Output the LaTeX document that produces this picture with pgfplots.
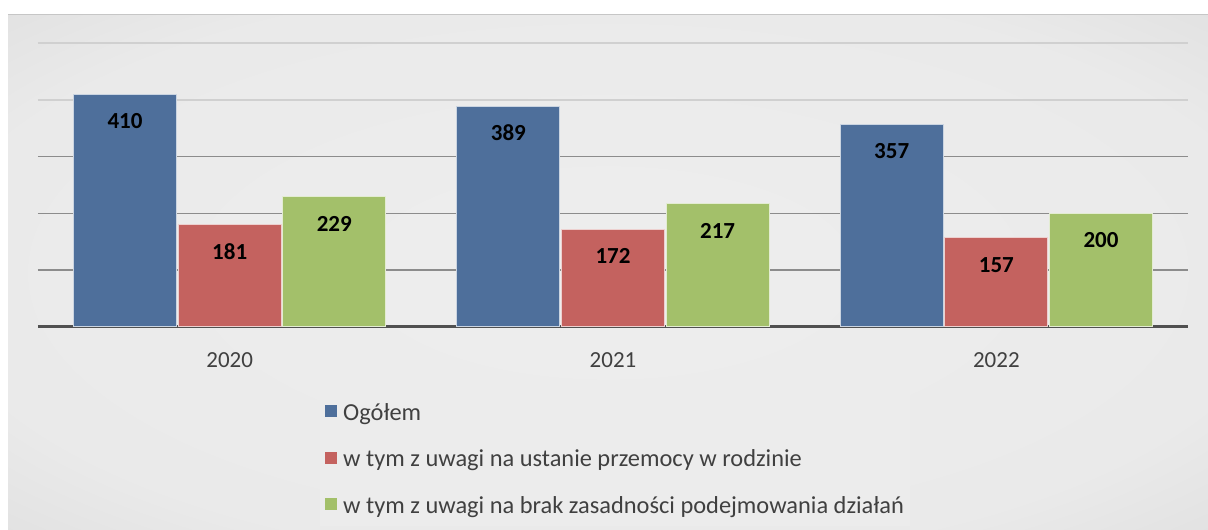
\documentclass[border=0pt]{standalone}
\usepackage{fontspec}
\setmainfont{Carlito}
\usepackage{pgfplots}
\pgfplotsset{compat=1.18}
\definecolor{cBlue}{HTML}{4E6F9B}
\definecolor{cRed}{HTML}{C4625F}
\definecolor{cGreen}{HTML}{A3C06A}
\definecolor{txt}{HTML}{404040}
\definecolor{gridD}{HTML}{8C8C8C}
\definecolor{gridL}{HTML}{D0D0D0}
\definecolor{baseL}{HTML}{505050}
\definecolor{bgIn}{HTML}{EEEEEE}
\definecolor{bgMid}{HTML}{D3D3D3}
\definecolor{bgOut}{HTML}{C2C2C2}
\definecolor{legBg}{HTML}{ECECEC}
\pgfdeclareradialshading{bgshade}{\pgfpoint{0bp}{0bp}}{color(0bp)=(bgIn); color(28bp)=(bgIn!85!bgMid); color(50bp)=(bgMid); color(71bp)=(bgOut)}

\begin{document}
\begin{tikzpicture}[x=1pt,y=1pt]
\useasboundingbox (0,0) rectangle (1208,530);
\fill[white] (0,0) rectangle (1208,530);
\shade[shading=bgshade] (8,0) rectangle (1208,515);
\draw[gray!45,line width=1pt] (8,515) -- (1208,515);
\begin{axis}[
  at={(38pt,203pt)},anchor=south west,
  scale only axis,width=1150pt,height=284pt,
  xmin=-0.5,xmax=2.5,ymin=0,ymax=500,
  ybar,bar width=0.268,bar shift=0pt,
  xtick={0,1,2},xticklabels={2020,2021,2022},
  xticklabel style={anchor=center,yshift=-33pt,font=\fontsize{23}{27}\selectfont,text=txt},
  ytick={100,200,300},yticklabels={},
  extra y ticks={400,500},extra y tick labels={},
  extra y tick style={grid style={draw=gridL,line width=1.5pt}},
  ymajorgrids,grid style={draw=gridD,line width=1.5pt},
  major tick length=0pt,tick style={draw=none},
  axis x line*=bottom,axis y line*=left,
  x axis line style={draw=baseL,line width=3pt},
  y axis line style={draw=none},
  /pgf/number format/assume math mode=true,
  nodes near coords,
  nodes near coords style={anchor=center,yshift=-27pt,font=\fontsize{23}{27}\selectfont\bfseries,text=black},
  legend style={at={(0.2452,-0.2289)},anchor=north west,draw=none,fill=legBg,
    font=\fontsize{24.4}{28}\selectfont,text=txt,inner xsep=5pt,inner ysep=9pt,row sep=24pt,
    column sep=5pt,legend cell align=left,nodes={inner xsep=1pt}},
  legend image code/.code={\fill[#1,draw=none] (0pt,-5pt) rectangle (12pt,7pt);},
]
\addplot[fill=cBlue,draw=white!70!cBlue,line width=1pt] coordinates {(-0.273,410) (0.727,389) (1.727,357)};
\addplot[fill=cRed,draw=white!70!cRed,line width=1pt] coordinates {(0,181) (1,172) (2,157)};
\addplot[fill=cGreen,draw=white!70!cGreen,line width=1pt] coordinates {(0.273,229) (1.273,217) (2.273,200)};
\legend{Ogółem,w tym z uwagi na ustanie przemocy w rodzinie,w tym z uwagi na brak zasadności podejmowania działań}
\end{axis}
\end{tikzpicture}
\end{document}
